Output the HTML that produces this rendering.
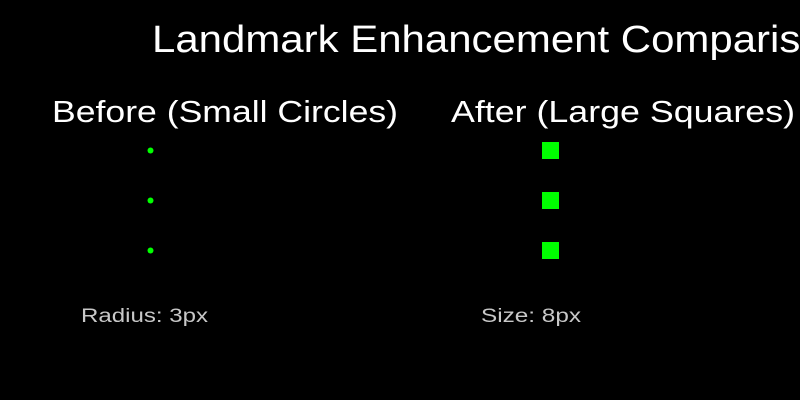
<!DOCTYPE html>
<html><head><meta charset="utf-8"><style>html,body{margin:0;padding:0;background:#000;width:800px;height:400px;overflow:hidden}</style></head>
<body>
<svg width="800" height="400" xmlns="http://www.w3.org/2000/svg" style="display:block">
<rect width="800" height="400" fill="#000"/>
<g font-family="Liberation Sans, sans-serif" fill="#fff">
<text x="152" y="52" font-size="38" textLength="695" lengthAdjust="spacingAndGlyphs">Landmark Enhancement Comparison</text>
<text x="52" y="122" font-size="31" textLength="346" lengthAdjust="spacingAndGlyphs">Before (Small Circles)</text>
<text x="451" y="122" font-size="31" textLength="344" lengthAdjust="spacingAndGlyphs">After (Large Squares)</text>
<text x="81" y="322" font-size="19" fill="#c8c8c8" textLength="127" lengthAdjust="spacingAndGlyphs">Radius: 3px</text>
<text x="481" y="322" font-size="19" fill="#c8c8c8" textLength="100" lengthAdjust="spacingAndGlyphs">Size: 8px</text>
</g>
<g fill="#00ff00">
<circle cx="150.5" cy="150.5" r="3"/>
<circle cx="150.5" cy="200.5" r="3"/>
<circle cx="150.5" cy="250.5" r="3"/>
<rect x="542" y="142" width="17" height="17"/>
<rect x="542" y="192" width="17" height="17"/>
<rect x="542" y="242" width="17" height="17"/>
</g>
</svg>
</body></html>
